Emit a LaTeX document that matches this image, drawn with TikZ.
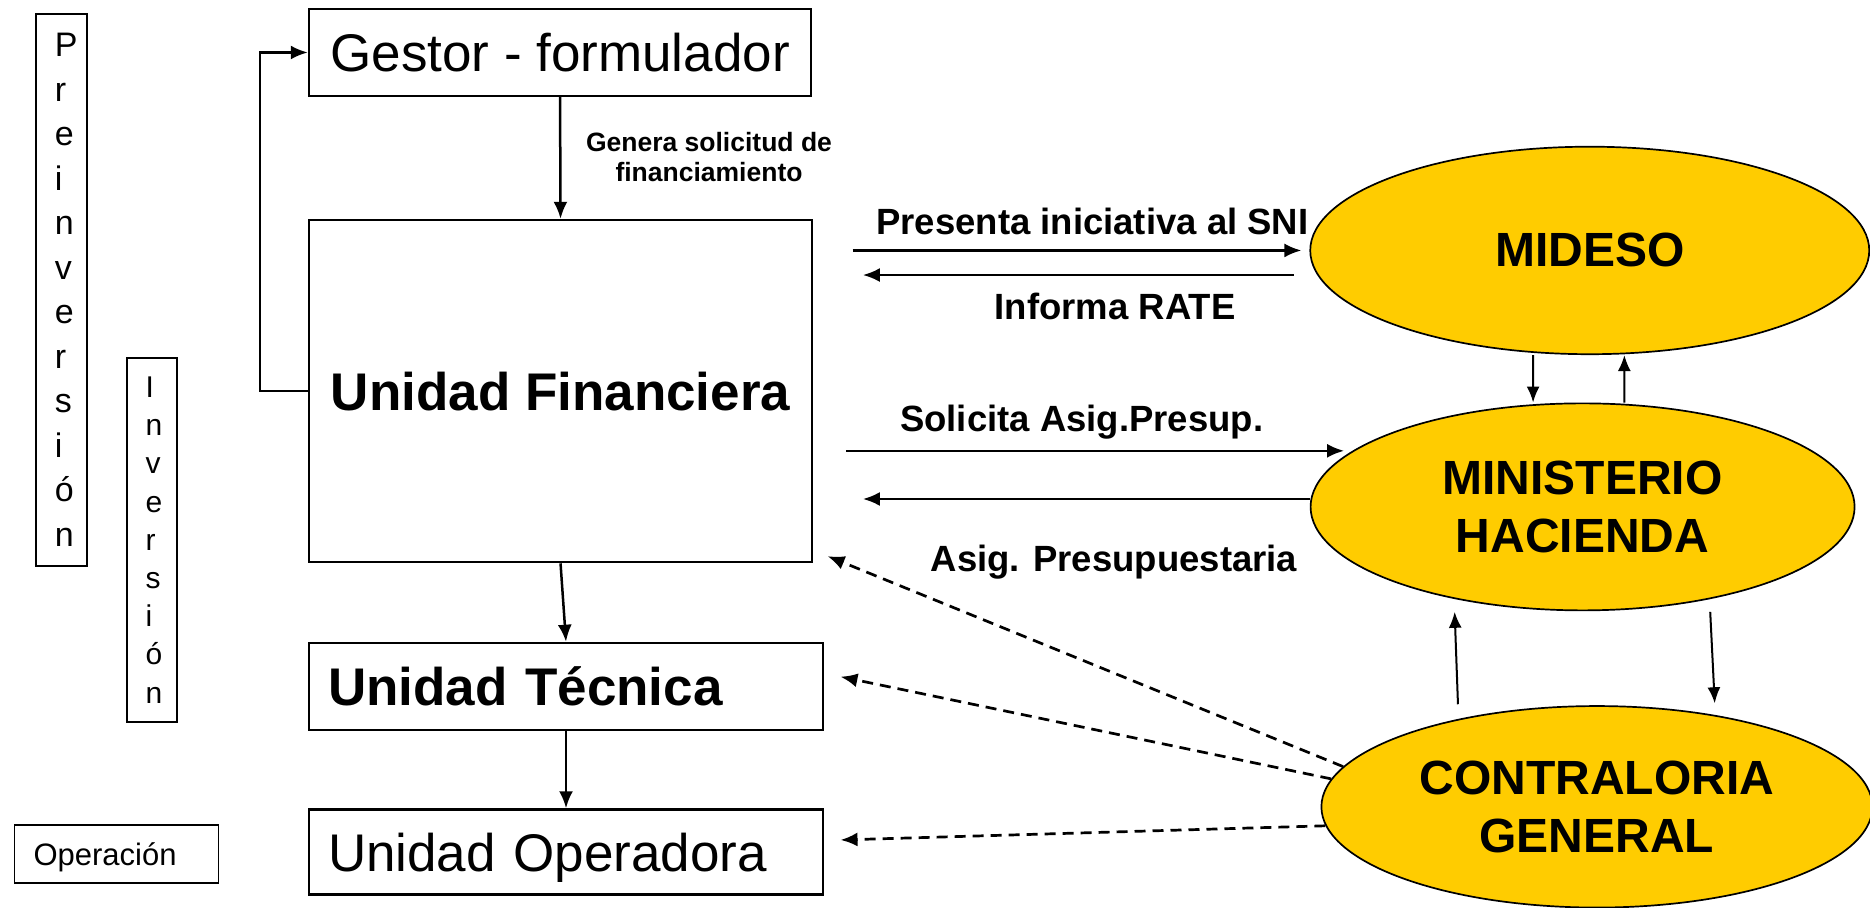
\documentclass[tikz,border=0pt]{standalone}
\usepackage{fontspec}
\setmainfont{Liberation Sans}
\usetikzlibrary{arrows.meta,shapes.geometric}
\definecolor{amarillo}{HTML}{FFCC00}
\tikzset{
  flecha/.style={-{Latex[length=17pt,width=14pt]},line width=2.5pt},
  fina/.style={-{Latex[length=16pt,width=13pt]},line width=2pt},
  punteada/.style={flecha,line width=2.7pt,dash pattern=on 11pt off 7pt},
  caja/.style={draw,line width=2.5pt,inner sep=0pt,text height=38pt,text depth=0pt,font=\fontsize{53}{60}\selectfont},
  negrita/.style={font=\fontsize{53}{60}\selectfont\bfseries},
  cajaizq/.style={caja,align=left,inner xsep=19pt,text width=476pt},
  etapa/.style={draw,line width=1.8pt,inner ysep=0pt,inner xsep=19pt,align=left},
  ente/.style={ellipse,draw,line width=1.7pt,fill=amarillo,inner sep=0pt,align=center,font=\fontsize{48}{58}\selectfont\bfseries},
  rotulo/.style={inner sep=0pt,font=\fontsize{36.5}{40}\selectfont\bfseries}
}
\begin{document}
\begin{tikzpicture}[x=1.1926pt,y=-1.1926pt]
    \useasboundingbox (0,0) rectangle (1568,761);
    \clip (0,0) rectangle (1568,761);
    \node[etapa,text width=12.7pt,minimum height=552pt,font=\fontsize{34}{44.5}\selectfont] (pre) at (51.4,243.2) {P\\r\\e\\i\\n\\v\\e\\r\\s\\i\\ó\\n};
    \node[etapa,text width=12pt,minimum height=364pt,font=\fontsize{30}{38.2}\selectfont] (inv) at (127.2,452.8) {I\\n\\v\\e\\r\\s\\i\\ó\\n};
    \node[etapa,text width=166pt,minimum height=58pt,text height=22.2pt,text depth=0pt,font=\fontsize{31}{36}\selectfont] (ope) at (97.7,716) {Operación};
    \node[caja,minimum width=502pt,minimum height=87pt] (gestor) at (469.6,44) {Gestor - formulador};
    \node[caja,negrita,minimum width=503pt,minimum height=342pt] (uf) at (470,327.9) {Unidad Financiera};
    \node[cajaizq,negrita,minimum height=87pt] (ut) at (474.6,575.6) {Unidad Técnica};
    \node[cajaizq,minimum height=85pt] (uo) at (474.6,714.4) {Unidad Operadora};
    \node[ente,minimum width=559pt,minimum height=207.5pt] (mideso) at (1333,210) {MIDESO};
    \node[ente,minimum width=544pt,minimum height=207pt] (mh) at (1327,425) {MINISTERIO\\HACIENDA};
    \node[ente,minimum width=551pt,minimum height=201.5pt] (cg) at (1339,676.5) {CONTRALORIA\\GENERAL};
    \draw[flecha] (gestor.south) -- (uf.north);
    \draw[flecha] (uf.west) -- ++(-40,0) |- (gestor.west);
    \draw[flecha] (uf.south) -- (ut.north);
    \draw[flecha] (ut.south) -- (uo.north);
    \coordinate (presA) at (715,210);
    \coordinate (infA) at (1084.6,230.6);
    \coordinate (infB) at (723.5,230.6);
    \coordinate (solA) at (709.7,378);
    \coordinate (asgB) at (723.5,418.4);
    \draw[flecha,shorten >=8pt] (presA) -- (presA -| mideso.west);
    \draw[flecha] (infA) -- (infB);
    \draw[flecha] (solA) -- (solA -| mh.168);
    \draw[flecha] (mh.west |- asgB) -- (asgB);
    \draw[fina] ([xshift=-56.6pt]mideso.south) -- ([xshift=-49.5pt]mh.north);
    \draw[fina] ([xshift=41.7pt]mh.north) -- ([xshift=34.6pt]mideso.south);
    \coordinate (hcA) at (1222.5,590.5);
    \coordinate (hcB) at (1219.7,513);
    \coordinate (hcC) at (1434,513);
    \coordinate (hcD) at (1437.8,589.7);
    \draw[fina] (hcA) -- (hcB);
    \draw[fina] (hcC) -- (hcD);
    \coordinate (dUF) at ([shift={(12,-6)}]uf.south east);
    \coordinate (dUT) at ([shift={(13.6,-8.2)}]ut.east);
    \coordinate (dUO) at ([shift={(13.6,-10.1)}]uo.east);
    \foreach \ang/\dst in {171/dUF,174/dUT,184/dUO}
    \draw[punteada] (cg.\ang) -- (\dst);
    \node[rotulo,align=center,font=\fontsize{26.5}{30}\selectfont\bfseries] (genera) at (594.5,131.6) {Genera solicitud de\\financiamiento};
    \node[rotulo,anchor=base] (presenta) at (916,197) {Presenta iniciativa al SNI};
    \node[rotulo,anchor=base] (informa) at (935,268) {Informa RATE};
    \node[rotulo,anchor=base] (solicita) at (907,362) {Solicita Asig.Presup.};
    \node[rotulo,anchor=base] (asignacion) at (934,479) {Asig. Presupuestaria};
\end{tikzpicture}
\end{document}
